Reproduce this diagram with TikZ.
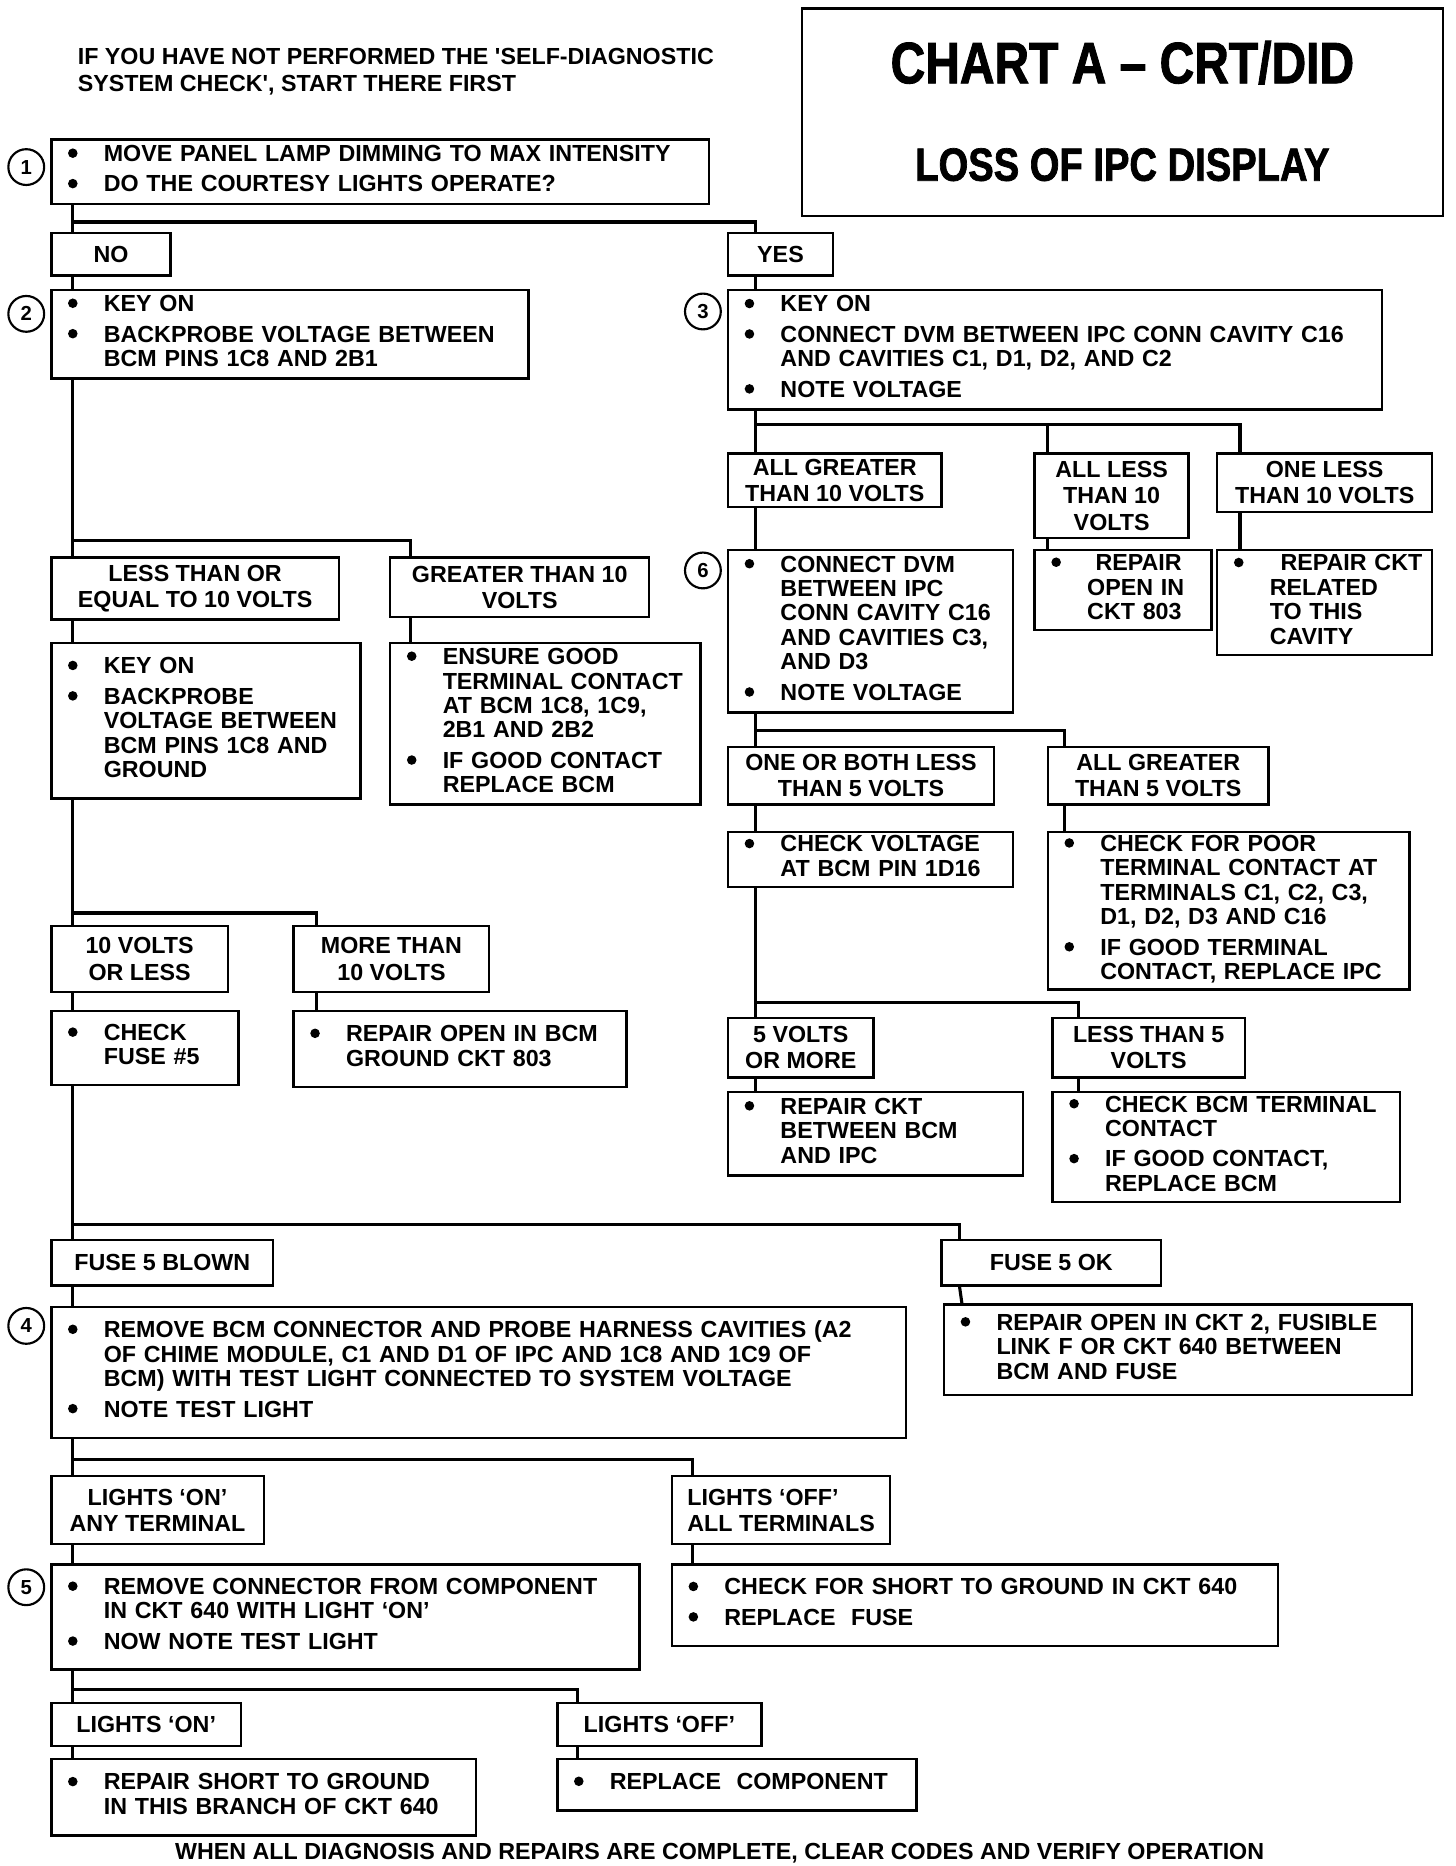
\documentclass[tikz,border=0pt]{standalone}
\usepackage{fontspec}
\setmainfont{Liberation Sans}
\newfontfamily\ttlfont{Liberation Sans}[FakeStretch=0.82, FakeBold=1.5]
\usepackage{tikz}
\usetikzlibrary{positioning}
\newcommand{\bl}{\tikz[baseline={(0pt,-7pt)}]\fill[black] (0pt,0pt) circle[radius=4pt];}
\newcommand{\steps}[1]{\begin{tabular}{@{}p{30pt}@{}l@{}}#1\end{tabular}}
\tikzset{
    txt/.style={font=\bfseries\fontsize{19.5}{20.5}\selectfont},
    stepbox/.style={rectangle, draw=black, line width=2pt, anchor=north west, inner xsep=14pt, inner ysep=0pt, align=left, txt},
    cond/.style={rectangle, draw=black, line width=2pt, anchor=north west, inner sep=0pt, align=center, font=\bfseries\fontsize{19.5}{22}\selectfont},
    num/.style={circle, draw=black, line width=1.8pt, minimum size=30pt, inner sep=0pt, font=\bfseries\fontsize{17}{17}\selectfont},
    link/.style={line width=2.6pt}
}
\begin{document}
\begin{tikzpicture}[x=1pt, y=-1pt]
    \useasboundingbox (0,0) rectangle (1220,1563.6);
    % heading
    \node[txt, anchor=north west, align=left, inner sep=0pt, font=\bfseries\fontsize{19.5}{23}\selectfont] (note) at (65,40) {IF YOU HAVE NOT PERFORMED THE \textquotesingle SELF-DIAGNOSTIC\\SYSTEM CHECK\textquotesingle, START THERE FIRST};
    \node[draw=black, line width=2pt, anchor=north west, minimum width=537pt, minimum height=174pt, inner sep=0pt] (chart) at (671,6) {};
    \node[inner sep=0pt, font=\ttlfont\bfseries\fontsize{49}{49}\selectfont] (chartA) at ([yshift=-46.5pt]chart.north) {CHART A – CRT/DID};
    \node[inner sep=0pt, font=\ttlfont\bfseries\fontsize{39}{39}\selectfont] (loss) at ([yshift=-132pt]chart.north) {LOSS OF IPC DISPLAY};

    % step numbers
    \node[num] (n1) at (22,140) {1};
    \node[num] (n2) at (22,263) {2};
    \node[num] (n3) at (589,261) {3};
    \node[num] (n6) at (589,478) {6};
    \node[num] (n4) at (22,1111) {4};
    \node[num] (n5) at (22,1330) {5};

    % top
    \node[stepbox, minimum width=551pt, minimum height=54pt, text width=523pt] (b1) at (42,116) {\steps{\bl & MOVE PANEL LAMP DIMMING TO MAX INTENSITY\\[5pt] \bl & DO THE COURTESY LIGHTS OPERATE?}};
    \node[cond, minimum width=100pt, minimum height=36pt] (no) at (42,194) {NO};
    \node[cond, minimum width=88pt, minimum height=36pt] (yes) at (609,194) {YES};

    % yes branch
    \node[stepbox, minimum width=548pt, minimum height=100pt, text width=520pt] (b3) at (609,242) {\steps{\bl & KEY ON\\[5pt] \bl & CONNECT DVM BETWEEN IPC CONN CAVITY C16\\ & AND CAVITIES C1, D1, D2, AND C2\\[5pt] \bl & NOTE VOLTAGE}};
    \node[cond, minimum width=179pt, minimum height=45pt] (ag10) at (609,379) {ALL GREATER\\THAN 10 VOLTS};
    \node[cond, minimum width=129pt, minimum height=71pt] (al10) at (866,379) {ALL LESS\\THAN 10\\VOLTS};
    \node[cond, minimum width=180pt, minimum height=49pt] (ol10) at (1019,379) {ONE LESS\\THAN 10 VOLTS};
    \node[stepbox, minimum width=239pt, minimum height=136pt, text width=211pt] (b6) at (609,460) {\steps{\bl & CONNECT DVM\\ & BETWEEN IPC\\ & CONN CAVITY C16\\ & AND CAVITIES C3,\\ & AND D3\\[5pt] \bl & NOTE VOLTAGE}};
    \node[stepbox, minimum width=148pt, minimum height=67pt, text width=120pt] (r803) at (866,460) {\steps{\bl & \hspace*{7pt}REPAIR\\ & OPEN IN\\ & CKT 803}};
    \node[stepbox, minimum width=180pt, minimum height=88pt, text width=152pt] (rcav) at (1019,460) {\steps{\bl & \hspace*{9pt}REPAIR CKT\\ & RELATED\\ & TO THIS\\ & CAVITY}};
    \node[cond, minimum width=223pt, minimum height=48pt] (ob5) at (609,625) {ONE OR BOTH LESS\\THAN 5 VOLTS};
    \node[cond, minimum width=185pt, minimum height=48pt] (ag5) at (877,625) {ALL GREATER\\THAN 5 VOLTS};
    \node[stepbox, minimum width=239pt, minimum height=46pt, text width=211pt] (cv) at (609,696) {\steps{\bl & CHECK VOLTAGE\\ & AT BCM PIN 1D16}};
    \node[stepbox, minimum width=303pt, minimum height=132pt, text width=275pt] (cp) at (877,696) {\steps{\bl & CHECK FOR POOR\\ & TERMINAL CONTACT AT\\ & TERMINALS C1, C2, C3,\\ & D1, D2, D3 AND C16\\[5pt] \bl & IF GOOD TERMINAL\\ & CONTACT, REPLACE IPC}};
    \node[cond, minimum width=122pt, minimum height=50pt] (v5m) at (609,852) {5 VOLTS\\OR MORE};
    \node[cond, minimum width=161pt, minimum height=50pt] (lt5) at (881,852) {LESS THAN 5\\VOLTS};
    \node[stepbox, minimum width=247pt, minimum height=70pt, text width=219pt] (rb) at (609,914) {\steps{\bl & REPAIR CKT\\ & BETWEEN BCM\\ & AND IPC}};
    \node[stepbox, minimum width=291pt, minimum height=92pt, text width=263pt] (cbt) at (881,914) {\steps{\bl & CHECK BCM TERMINAL\\ & CONTACT\\[5pt] \bl & IF GOOD CONTACT,\\ & REPLACE BCM}};

    % no branch
    \node[stepbox, minimum width=400pt, minimum height=74pt, text width=372pt] (b2) at (42,242) {\steps{\bl & KEY ON\\[5pt] \bl & BACKPROBE VOLTAGE BETWEEN\\ & BCM PINS 1C8 AND 2B1}};
    \node[cond, minimum width=241pt, minimum height=52pt] (le10) at (42,466) {LESS THAN OR\\EQUAL TO 10 VOLTS};
    \node[cond, minimum width=217pt, minimum height=50pt] (gt10) at (326,466) {GREATER THAN 10\\VOLTS};
    \node[stepbox, minimum width=259pt, minimum height=130pt, text width=231pt] (ko) at (42,538) {\steps{\bl & KEY ON\\[5pt] \bl & BACKPROBE\\ & VOLTAGE BETWEEN\\ & BCM PINS 1C8 AND\\ & GROUND}};
    \node[stepbox, minimum width=260pt, minimum height=135pt, text width=232pt] (eg) at (326,538) {\steps{\bl & ENSURE GOOD\\ & TERMINAL CONTACT\\ & AT BCM 1C8, 1C9,\\ & 2B1 AND 2B2\\[5pt] \bl & IF GOOD CONTACT\\ & REPLACE BCM}};
    \node[cond, minimum width=148pt, minimum height=55pt] (v10l) at (42,775) {10 VOLTS\\OR LESS};
    \node[cond, minimum width=164pt, minimum height=55pt] (mt10) at (245,775) {MORE THAN\\10 VOLTS};
    \node[stepbox, minimum width=157pt, minimum height=62pt, text width=129pt] (cf) at (42,846) {\steps{\bl & CHECK\\ & FUSE \#5}};
    \node[stepbox, minimum width=279pt, minimum height=64pt, text width=251pt] (ro) at (245,846) {\steps{\bl & REPAIR OPEN IN BCM\\ & GROUND CKT 803}};

    % fuse
    \node[cond, minimum width=186pt, minimum height=38pt] (f5b) at (42,1038) {FUSE 5 BLOWN};
    \node[cond, minimum width=184pt, minimum height=38pt] (f5ok) at (788,1038) {FUSE 5 OK};
    \node[stepbox, minimum width=716pt, minimum height=110pt, text width=688pt] (b4) at (42,1094) {\steps{\bl & REMOVE BCM CONNECTOR AND PROBE HARNESS CAVITIES (A2\\ & OF CHIME MODULE, C1 AND D1 OF IPC AND 1C8 AND 1C9 OF\\ & BCM) WITH TEST LIGHT CONNECTED TO SYSTEM VOLTAGE\\[5pt] \bl & NOTE TEST LIGHT}};
    \node[stepbox, minimum width=392pt, minimum height=76pt, text width=364pt] (rf) at (790,1092) {\steps{\bl & REPAIR OPEN IN CKT 2, FUSIBLE\\ & LINK F OR CKT 640 BETWEEN\\ & BCM AND FUSE}};
    \node[cond, minimum width=178pt, minimum height=57pt] (lon) at (42,1236) {LIGHTS ‘ON’\\ANY TERMINAL};
    \node[cond, minimum width=183pt, minimum height=57pt, align=left] (loff) at (562,1236) {LIGHTS ‘OFF’\\ALL TERMINALS};
    \node[stepbox, minimum width=493pt, minimum height=88pt, text width=465pt] (b5) at (42,1310) {\steps{\bl & REMOVE CONNECTOR FROM COMPONENT\\ & IN CKT 640 WITH LIGHT ‘ON’\\[5pt] \bl & NOW NOTE TEST LIGHT}};
    \node[stepbox, minimum width=508pt, minimum height=68pt, text width=480pt] (cs) at (562,1310) {\steps{\bl & CHECK FOR SHORT TO GROUND IN CKT 640\\[5pt] \bl & REPLACE\ \ FUSE}};
    \node[cond, minimum width=159pt, minimum height=36pt] (lon2) at (42,1426) {LIGHTS ‘ON’};
    \node[cond, minimum width=171pt, minimum height=36pt] (loff2) at (466,1426) {LIGHTS ‘OFF’};
    \node[stepbox, minimum width=356pt, minimum height=64pt, text width=328pt] (rs) at (42,1473) {\steps{\bl & REPAIR SHORT TO GROUND\\ & IN THIS BRANCH OF CKT 640}};
    \node[stepbox, minimum width=301pt, minimum height=43pt, text width=273pt] (rc) at (466,1473) {\steps{\bl & REPLACE\ \ COMPONENT}};

    \node[txt, inner sep=0pt] (done) at (603,1553) {WHEN ALL DIAGNOSIS AND REPAIRS ARE COMPLETE, CLEAR CODES AND VERIFY OPERATION};

    % connectors
    \draw[link] ([xshift=19pt]b1.south west) -- ([xshift=19pt]no.north west);
    \draw[link] ([xshift=19pt]b1.south west) ++(0,14) -| ([xshift=24pt]yes.north west);
    \draw[link] ([xshift=19pt]no.south west) -- ([xshift=19pt]b2.north west);
    \draw[link] ([xshift=24pt]yes.south west) -- ([xshift=24pt]b3.north west);

    \draw[link] ([xshift=24pt]b3.south west) -- ([xshift=24pt]ag10.north west);
    \draw[link] ([xshift=24pt]b3.south west) ++(0,12) -| ([xshift=12pt]al10.north west);
    \draw[link] ([xshift=24pt]b3.south west) ++(0,12) -| ([xshift=20pt]ol10.north west);
    \draw[link] ([xshift=24pt]ag10.south west) -- ([xshift=24pt]b6.north west);
    \draw[link] ([xshift=12pt]al10.south west) -- ([xshift=12pt]r803.north west);
    \draw[link] ([xshift=20pt]ol10.south west) -- ([xshift=20pt]rcav.north west);
    \draw[link] ([xshift=24pt]b6.south west) -- ([xshift=24pt]ob5.north west);
    \draw[link] ([xshift=24pt]b6.south west) ++(0,14) -| ([xshift=15pt]ag5.north west);
    \draw[link] ([xshift=24pt]ob5.south west) -- ([xshift=24pt]cv.north west);
    \draw[link] ([xshift=15pt]ag5.south west) -- ([xshift=15pt]cp.north west);
    \draw[link] ([xshift=24pt]cv.south west) -- ([xshift=24pt]v5m.north west);
    \draw[link] ([xshift=24pt]cv.south west) ++(0,96) -| ([xshift=23pt]lt5.north west);
    \draw[link] ([xshift=24pt]v5m.south west) -- ([xshift=24pt]rb.north west);
    \draw[link] ([xshift=23pt]lt5.south west) -- ([xshift=23pt]cbt.north west);

    \draw[link] ([xshift=19pt]b2.south west) -- ([xshift=19pt]le10.north west);
    \draw[link] ([xshift=19pt]b2.south west) ++(0,135) -| ([xshift=18pt]gt10.north west);
    \draw[link] ([xshift=19pt]le10.south west) -- ([xshift=19pt]ko.north west);
    \draw[link] ([xshift=18pt]gt10.south west) -- ([xshift=18pt]eg.north west);
    \draw[link] ([xshift=19pt]ko.south west) -- ([xshift=19pt]v10l.north west);
    \draw[link] ([xshift=19pt]ko.south west) ++(0,95) -| ([xshift=20pt]mt10.north west);
    \draw[link] ([xshift=19pt]v10l.south west) -- ([xshift=19pt]cf.north west);
    \draw[link] ([xshift=20pt]mt10.south west) -- ([xshift=20pt]ro.north west);

    \draw[link] ([xshift=19pt]cf.south west) -- ([xshift=19pt]f5b.north west);
    \draw[link] ([xshift=19pt]cf.south west) ++(0,116) -| ([xshift=16pt]f5ok.north west);
    \draw[link] ([xshift=19pt]f5b.south west) -- ([xshift=19pt]b4.north west);
    \draw[link] ([xshift=16pt]f5ok.south west) -- ([xshift=16pt]rf.north west);
    \draw[link] ([xshift=19pt]b4.south west) -- ([xshift=19pt]lon.north west);
    \draw[link] ([xshift=19pt]b4.south west) ++(0,17) -| ([xshift=18pt]loff.north west);
    \draw[link] ([xshift=19pt]lon.south west) -- ([xshift=19pt]b5.north west);
    \draw[link] ([xshift=18pt]loff.south west) -- ([xshift=18pt]cs.north west);
    \draw[link] ([xshift=19pt]b5.south west) -- ([xshift=19pt]lon2.north west);
    \draw[link] ([xshift=19pt]b5.south west) ++(0,16) -| ([xshift=18pt]loff2.north west);
    \draw[link] ([xshift=19pt]lon2.south west) -- ([xshift=19pt]rs.north west);
    \draw[link] ([xshift=18pt]loff2.south west) -- ([xshift=18pt]rc.north west);
\end{tikzpicture}
\end{document}
